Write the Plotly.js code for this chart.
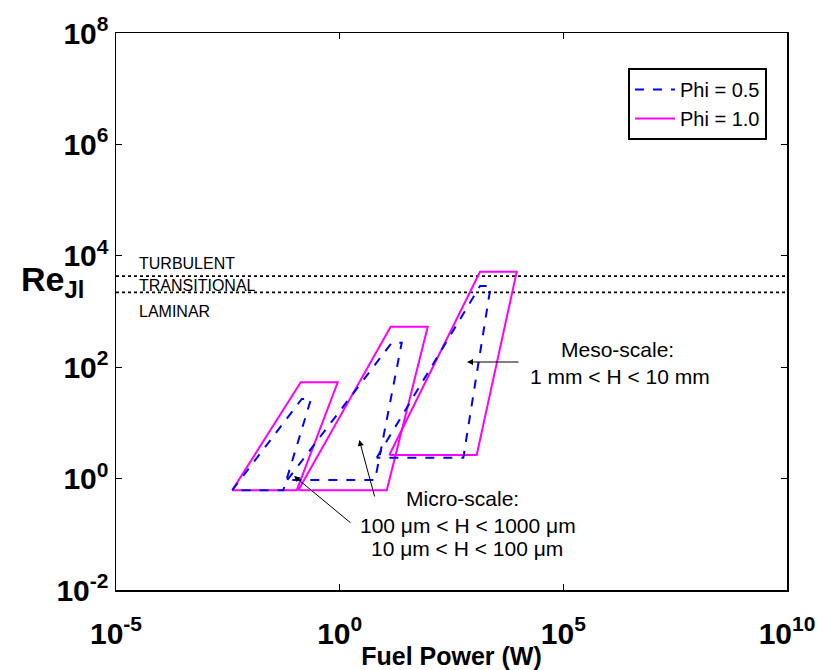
<!DOCTYPE html>
<html>
<head>
<meta charset="utf-8">
<script src="https://cdn.plot.ly/plotly-3.0.1.min.js"></script>
<style>
  html, body { margin: 0; padding: 0; background: #fff; }
  #chart { width: 817px; height: 670px; }
</style>
</head>
<body>
<div id="chart"></div>
<script>
// Operating envelopes (closed quadrilaterals, separated by null) for each equivalence ratio
const phi05Power = [0.00398, 0.142, 0.229, 0.055, 0.00398, null,
                    0.0676, 14.6, 24.4, 6.17, 0.0676, null,
                    6.73, 1373, 2383, 581, 6.73];
const phi05Re    = [0.62, 26.9, 26.9, 0.62, 0.62, null,
                    0.944, 275, 275, 0.944, 0.944, null,
                    2.37, 2870, 2870, 2.37, 2.37];

const phi10Power = [0.00398, 0.135, 0.904, 0.110, 0.00398, null,
                    0.119, 13.8, 93, 11.3, 0.119, null,
                    12.9, 1373, 9080, 1158, 12.9];
const phi10Re    = [0.62, 53.6, 53.6, 0.62, 0.62, null,
                    0.62, 533, 533, 0.62, 0.62, null,
                    2.65, 5180, 5180, 2.65, 2.65];

// Flow-regime boundaries
const regimeBounds = [4300, 2200];
const powerRange = [1e-5, 1e10];

const xTicks = [1e-5, 1, 1e5, 1e10];
const xTickText = ['10<sup>-5</sup>', '10<sup>0</sup>', '10<sup>5</sup>', '10<sup>10</sup>'];
const yTicks = [1e-2, 1, 1e2, 1e4, 1e6, 1e8];
const yTickText = ['10<sup>-2</sup>', '10<sup>0</sup>', '10<sup>2</sup>', '10<sup>4</sup>', '10<sup>6</sup>', '10<sup>8</sup>'];

const traces = [];
regimeBounds.forEach(function (re) {
  traces.push({
    x: powerRange, y: [re, re], mode: 'lines', showlegend: false, hoverinfo: 'skip',
    line: { color: '#000', width: 1.8, dash: 'dot' }
  });
});
traces.push({
  name: 'Phi = 1.0', x: phi10Power, y: phi10Re, mode: 'lines', connectgaps: false,
  line: { color: '#ff00ff', width: 2 }, legendrank: 2
});
traces.push({
  name: 'Phi = 0.5', x: phi05Power, y: phi05Re, mode: 'lines', connectgaps: false,
  line: { color: '#0000ff', width: 2, dash: 'dash' }, legendrank: 1
});

const txt = { family: 'Liberation Sans, Arial, sans-serif', color: '#000' };

// text labels placed in log-axis coordinates (log10 of the data value)
function label(text, x, y, size, anchor) {
  return { text: text, x: x, y: y, xref: 'x', yref: 'y', showarrow: false,
           xanchor: anchor || 'center', yanchor: 'middle',
           font: Object.assign({ size: size }, txt) };
}
function arrow(x, y, ax, ay) {
  return { text: '', x: x, y: y, ax: ax, ay: ay, xref: 'x', yref: 'y', axref: 'x', ayref: 'y',
           showarrow: true, arrowhead: 2, arrowsize: 1.2, arrowwidth: 1, arrowcolor: '#000' };
}

const annotations = [
  label('TURBULENT', -4.53, 3.853, 16, 'left'),
  label('TRANSITIONAL', -4.53, 3.458, 16, 'left'),
  label('LAMINAR', -4.53, 3.009, 16, 'left'),
  label('Meso-scale:', 6.2, 2.318, 21),
  label('1 mm &lt; H &lt; 10 mm', 6.268, 1.842, 21),
  label('Micro-scale:', 2.735, -0.366, 21),
  label('100 \u03bcm &lt; H &lt; 1000 \u03bcm', 2.869, -0.833, 21),
  label('10 \u03bcm &lt; H &lt; 100 \u03bcm', 2.847, -1.246, 21),
  arrow(2.847, 2.093, 4.032, 2.093),
  arrow(0.439, 0.693, 0.790, -0.348),
  arrow(-1.02, 0.047, 0.276, -0.815),
  { text: '<b>Re<sub>Jl</sub></b>', xref: 'paper', yref: 'paper', x: -0.095, y: 0.553,
    xanchor: 'center', yanchor: 'middle', showarrow: false,
    font: Object.assign({ size: 34 }, txt) }
];

const axisCommon = {
  type: 'log', showline: true, linecolor: '#000', linewidth: 1.5, mirror: 'ticks',
  ticks: 'inside', ticklen: 6, tickwidth: 1, tickcolor: '#000', showgrid: false, zeroline: false,
  tickfont: { family: 'Liberation Sans, Arial, sans-serif', size: 30, color: '#000', weight: 'bold' },
  tickmode: 'array'
};

const layout = {
  width: 817, height: 670,
  margin: { l: 116, r: 30, t: 33, b: 80 },
  paper_bgcolor: '#fff', plot_bgcolor: '#fff',
  showlegend: true,
  legend: {
    x: 0.763, y: 0.937, xanchor: 'left', yanchor: 'top',
    bordercolor: '#000', borderwidth: 2, bgcolor: '#fff',
    font: { family: 'Liberation Sans, Arial, sans-serif', size: 20, color: '#000' },
    tracegroupgap: 0, itemwidth: 40, entrywidth: 92, entrywidthmode: 'pixels'
  },
  xaxis: Object.assign({}, axisCommon, {
    range: [-5, 10], tickvals: xTicks, ticktext: xTickText, ticklabelstandoff: 16,
    title: { text: '<b>Fuel Power (W)</b>', standoff: 0,
             font: { family: 'Liberation Sans, Arial, sans-serif', size: 25, color: '#000' } }
  }),
  yaxis: Object.assign({}, axisCommon, {
    range: [-2, 8], tickvals: yTicks, ticktext: yTickText
  }),
  annotations: annotations
};

Plotly.newPlot('chart', traces, layout, { displayModeBar: false, staticPlot: true });
</script>
</body>
</html>
